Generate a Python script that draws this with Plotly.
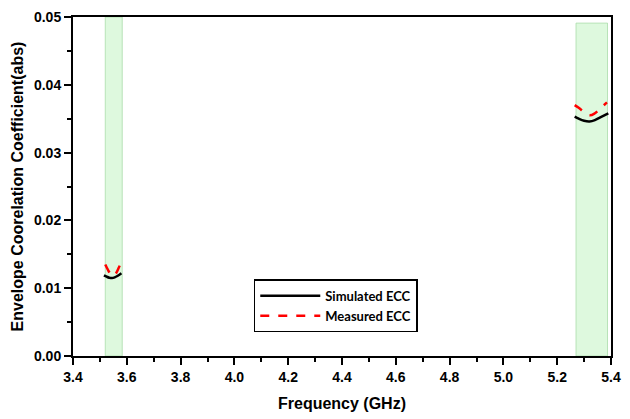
import plotly.graph_objects as go

# Data
sim_x = [3.515, 3.525, 3.535, 3.545, 3.555, 3.565, 3.58, None,
         5.265, 5.28, 5.30, 5.32, 5.34, 5.36, 5.39]
sim_y = [0.0119, 0.0117, 0.01155, 0.0115, 0.0116, 0.0118, 0.0122, None,
         0.0353, 0.0350, 0.0347, 0.0346, 0.0348, 0.0352, 0.0358]
meas_x = [3.52, 3.53, 3.54, 3.55, 3.56, 3.57, 3.585, None,
          5.265, 5.28, 5.30, 5.32, 5.34, 5.36, 5.385]
meas_y = [0.0135, 0.0127, 0.0121, 0.0118, 0.0122, 0.0130, 0.0145, None,
          0.0370, 0.0366, 0.0360, 0.0355, 0.0358, 0.0365, 0.0374]
bands = [(3.52, 3.583, 0.05), (5.27, 5.387, 0.0491)]

fig = go.Figure()
for x0, x1, ytop in bands:
    fig.add_shape(type="rect", x0=x0, x1=x1, y0=0, y1=ytop, xref="x", yref="y",
                  fillcolor="rgba(200,245,200,0.6)",
                  line=dict(color="rgba(170,220,170,0.8)", width=1), layer="below")

fig.add_trace(go.Scatter(x=sim_x, y=sim_y, mode="lines", name="Simulated ECC",
                         line=dict(color="black", width=2.5, shape="spline")))
fig.add_trace(go.Scatter(x=meas_x, y=meas_y, mode="lines", name="Measured ECC",
                         line=dict(color="red", width=2.5, dash="dash", shape="spline")))

fig.update_layout(
    width=630, height=419,
    margin=dict(l=73, r=9, t=17, b=57),
    plot_bgcolor="white", paper_bgcolor="white",
    showlegend=True,
    legend=dict(x=0.336, y=0.226, xanchor="left", yanchor="top",
                bordercolor="black", borderwidth=1.5, bgcolor="white",
                font=dict(family="Lato, Liberation Sans", size=13, color="black", weight="bold"),
                itemwidth=60, tracegroupgap=0),
    xaxis=dict(range=[3.4, 5.4], dtick=0.2, tick0=3.4, tickformat=".1f",
               showgrid=False, zeroline=False,
               showline=True, linecolor="black", linewidth=2, mirror=True,
               ticks="outside", ticklen=7, tickwidth=2, tickcolor="black",
               minor=dict(ticks="outside", dtick=0.1, ticklen=4, tickwidth=1.5, tickcolor="black"),
               tickfont=dict(family="Liberation Sans, Arial", size=14, color="black", weight="bold"),
               title=dict(text="<b>Frequency (GHz)</b>", standoff=14,
                          font=dict(family="Liberation Sans, Arial", size=16, color="black"))),
    yaxis=dict(range=[0, 0.05], dtick=0.01, tickformat=".2f",
               showgrid=False, zeroline=False,
               showline=True, linecolor="black", linewidth=2, mirror=True,
               ticks="outside", ticklen=7, tickwidth=2, tickcolor="black",
               minor=dict(ticks="outside", dtick=0.005, ticklen=4, tickwidth=1.5, tickcolor="black"),
               tickfont=dict(family="Liberation Sans, Arial", size=14, color="black", weight="bold"),
               title=dict(text="<b>Envelope Coorelation Coefficient(abs)</b>", standoff=6,
                          font=dict(family="Liberation Sans, Arial", size=16, color="black"))),
)

fig.write_html("out.html")
